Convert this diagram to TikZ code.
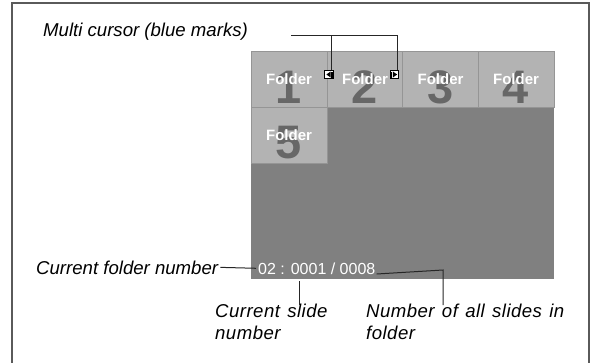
\documentclass[tikz,border=0pt]{standalone}
\usepackage{fontspec}
\setmainfont{Liberation Sans}
\newfontfamily\widesp[WordSpace=1.3,LetterSpace=2.5]{Liberation Sans}
\definecolor{screengray}{HTML}{808080}
\definecolor{tilefill}{HTML}{B3B3B3}
\definecolor{tileedge}{HTML}{959595}
\definecolor{digitgray}{HTML}{676767}
\definecolor{framegray}{HTML}{5A5A5A}
\begin{document}
\begin{tikzpicture}[x=1pt,y=-1pt,
  tilebox/.style={draw=tileedge, fill=tilefill, line width=0.8pt, minimum width=76pt, minimum height=56pt, inner sep=0pt, outer sep=0pt},
  digitlbl/.style={text=digitgray, font=\fontsize{47}{47}\selectfont\bfseries, inner sep=0pt},
  foldertxt/.style={text=white, font=\fontsize{15}{15}\selectfont\bfseries, inner sep=0pt},
  lbl/.style={font=\fontsize{18.6}{22}\selectfont\itshape, inner sep=0pt, align=left},
  lblwide/.style={font=\widesp\fontsize{18.6}{22}\selectfont\itshape, inner sep=0pt, align=left},
  conn/.style={draw=black!85, line width=1pt},
  cmark/.style={draw=black, fill=white, line width=0.9pt, minimum size=8.5pt, inner sep=0pt},
]
\useasboundingbox (0,0) rectangle (591,362);
% outer frame
\draw[framegray, line width=1.5pt] (12,364) -- (12,3) -- (589,3) -- (589,364);
% screen
\fill[screengray] (251,51) rectangle (554,279);
% tiles
\foreach \n/\x/\y in {1/289/79, 2/365/79, 3/440.5/79, 4/516/79, 5/289/135} {
  \node[tilebox] (t\n) at (\x,\y) {};
  \node[digitlbl] (d\n) at ([yshift=-8pt]t\n.center) {\n};
  \node[foldertxt] (f\n) at (t\n.center) {Folder};
}
% cursor marks
\node[cmark] (ml) at (329,74.5) {};
\node[cmark] (mr) at (394.5,74.5) {};
\fill (ml.center) ++(-2.6,0) -- ++(4.2,-3) -- ++(0,6) -- cycle;
\fill (ml.center) ++(2.4,-3) rectangle ++(1.2,6);
\fill (mr.center) ++(2.6,0) -- ++(-4.2,-3) -- ++(0,6) -- cycle;
\fill (mr.center) ++(-3.6,-3) rectangle ++(1.2,6);
% multi cursor label
\node[lbl, anchor=base west] (mcl) at (43,36) {Multi cursor (blue marks)};
\coordinate (mcend) at (291,35);
\draw[conn] ([xshift=2pt]ml.north) |- (mcend);
\draw[conn] ([xshift=2.5pt]mr.north) |- (mcend);
% status text
\node[text=white, font=\fontsize{16}{16}\selectfont, inner sep=0pt, anchor=base west] (num) at (258,274) {02 : 0001 / 0008};
\node[lbl, anchor=base west] (cfl) at (36,274) {Current folder number};
\draw[conn] ([xshift=2pt]cfl.east) -- ([xshift=-2pt]num.west);
% current slide
\node[lblwide, anchor=north west] (csl) at (215,304) {Current slide\\number};
\coordinate (cstop) at (299,281);
\draw[conn] (cstop) -- ([yshift=-1pt]cstop |- csl.north);
% number of all slides
\node[lblwide, anchor=north west] (nal) at (366,304) {Number of all slides in\\folder};
\coordinate (nacorner) at (443,270);
\draw[conn] ([xshift=1pt]num.base east) -- (nacorner) -- ([yshift=-1pt]nacorner |- nal.north);
\end{tikzpicture}
\end{document}
